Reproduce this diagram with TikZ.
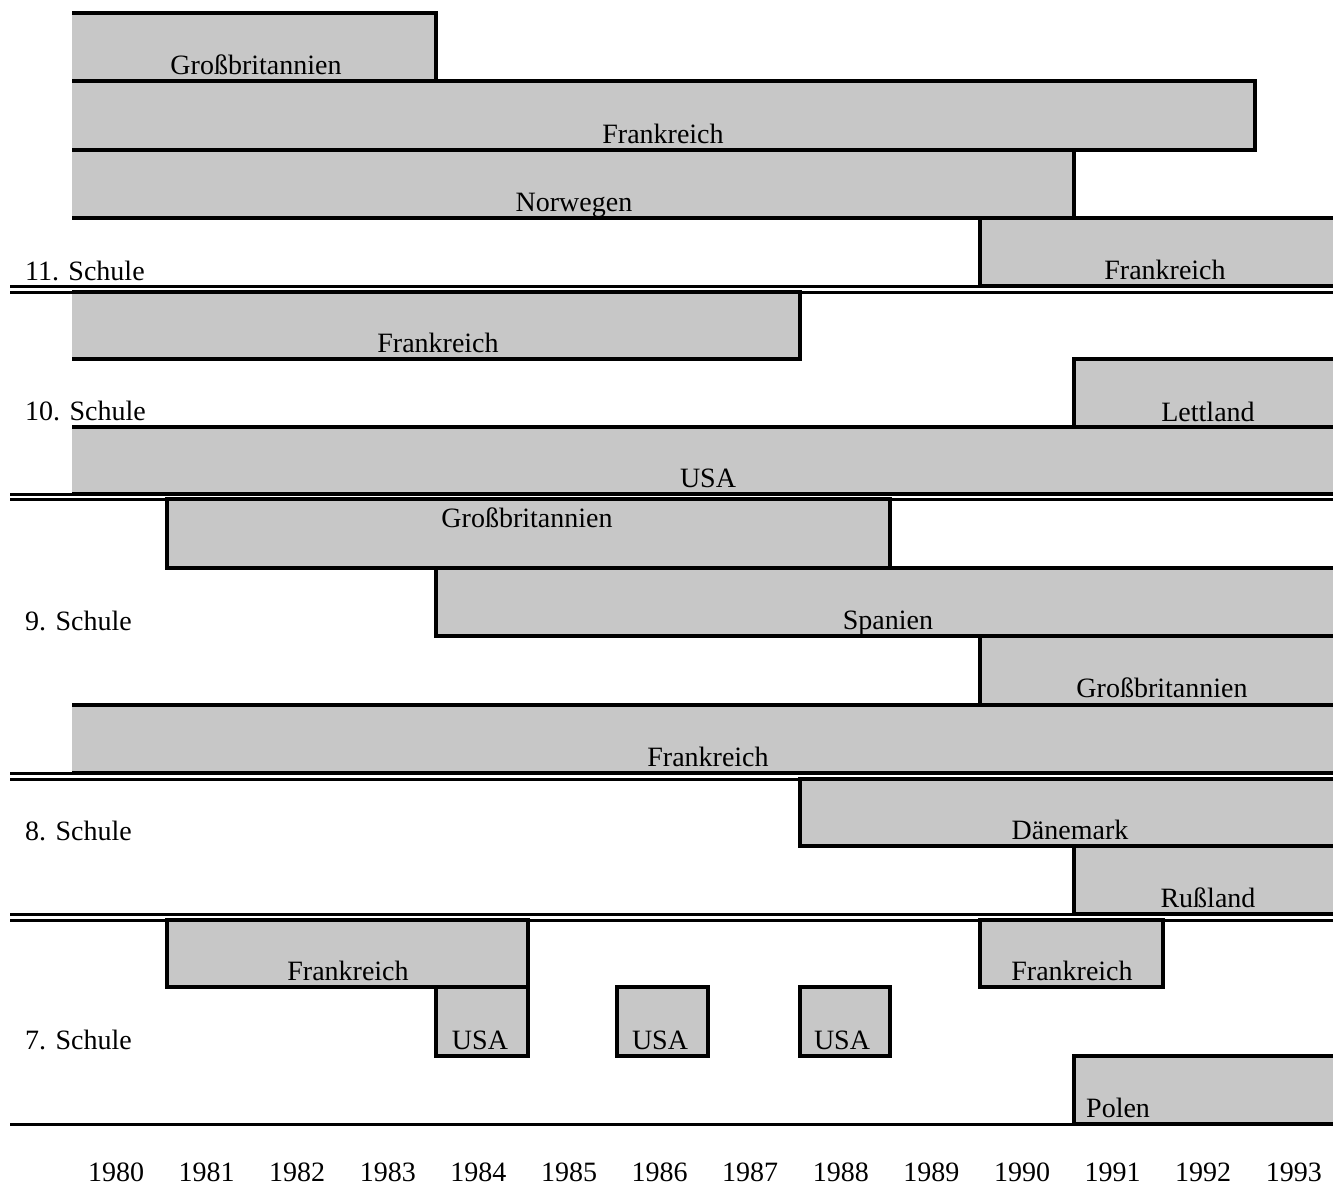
\documentclass[tikz,border=0pt]{standalone}
\usepackage{fontspec}
\setmainfont{Liberation Serif}
\pgfdeclarelayer{paper}
\pgfdeclarelayer{background}
\pgfsetlayers{paper,background,main}
\tikzset{
  barfill/.style={fill=black!22},
  edge/.style={line width=3.2pt, line join=miter},
  sepline/.style={line width=3pt},
  lbl/.style={anchor=base, inner sep=0pt, font=\fontsize{28}{32}\selectfont},
  schul/.style={lbl, anchor=base west},
}
% interior bar: L T R B
\newcommand\gbarI[4]{%
  \begin{pgfonlayer}{background}\fill[barfill] (#1,#2) rectangle (#3,#4);\end{pgfonlayer}
  \draw[edge] (#1,#2) rectangle (#3,#4);}
% bar cut at the left edge: T R B
\newcommand\gbarL[3]{%
  \begin{pgfonlayer}{background}\fill[barfill] (72,#1) rectangle (#2,#3);\end{pgfonlayer}
  \draw[edge] (72,#1) -| (#2,#3) -- (72,#3);}
% bar cut at the right edge: L T B
\newcommand\gbarR[3]{%
  \begin{pgfonlayer}{background}\fill[barfill] (#1,#2) rectangle (1334,#3);\end{pgfonlayer}
  \draw[edge] (1334,#2) -- (#1,#2) |- (1334,#3);}
% bar cut at both edges: T B
\newcommand\gbarB[2]{%
  \begin{pgfonlayer}{background}\fill[barfill] (72,#1) rectangle (1334,#2);\end{pgfonlayer}
  \draw[edge] (72,#1) -- (1334,#1) (72,#2) -- (1334,#2);}

\begin{document}
\begin{tikzpicture}[x=1pt,y=-1pt]
\useasboundingbox (0,0) rectangle (1333,1186);
\begin{pgfonlayer}{paper}\fill[white] (0,0) rectangle (1333,1186);\end{pgfonlayer}

% ---- 11. Schule
\gbarL{13}{436}{81}
\gbarL{81}{1255}{150}
\gbarL{150}{1074}{218}
\gbarR{980}{218}{286}
\node[lbl] (s11a) at (256,74) {Großbritannien};
\node[lbl] (s11b) at (663,143) {Frankreich};
\node[lbl] (s11c) at (574,211) {Norwegen};
\node[lbl] (s11d) at (1165,279) {Frankreich};
\node[schul] (sch11) at (25,280) {11. Schule};

% ---- 10. Schule
\gbarL{292}{800}{359}
\gbarR{1074}{359}{427}
\gbarB{427}{494}
\node[lbl] (s10a) at (438,352) {Frankreich};
\node[lbl] (s10b) at (1208,421) {Lettland};
\node[lbl] (s10c) at (708,487) {USA};
\node[schul] (sch10) at (25,420) {10. Schule};

% ---- 9. Schule
\gbarI{167}{499}{890}{568}
\gbarR{436}{568}{636}
\gbarR{980}{636}{705}
\gbarB{705}{773}
\node[lbl] (s9a) at (527,527) {Großbritannien};
\node[lbl] (s9b) at (888,629) {Spanien};
\node[lbl] (s9c) at (1162,697) {Großbritannien};
\node[lbl] (s9d) at (708,766) {Frankreich};
\node[schul] (sch9) at (25,630) {9. Schule};

% ---- 8. Schule
\gbarR{800}{779}{846}
\gbarR{1074}{846}{914}
\node[lbl] (s8a) at (1070,839) {Dänemark};
\node[lbl] (s8b) at (1208,907) {Rußland};
\node[schul] (sch8) at (25,840) {8. Schule};

% ---- 7. Schule
\gbarI{167}{920}{528}{987}
\gbarI{980}{920}{1163}{987}
\gbarI{436}{987}{528}{1056}
\gbarI{617}{987}{708}{1056}
\gbarI{800}{987}{890}{1056}
\gbarR{1074}{1056}{1124}
\node[lbl] (s7a) at (348,980) {Frankreich};
\node[lbl] (s7b) at (1072,980) {Frankreich};
\node[lbl] (s7c) at (480,1049) {USA};
\node[lbl] (s7d) at (660,1049) {USA};
\node[lbl] (s7e) at (842,1049) {USA};
\node[lbl, anchor=base west] (s7f) at (1086,1117) {Polen};
\node[schul] (sch7) at (25,1049) {7. Schule};

% ---- separators
\foreach \ya/\yb in {286/292, 494/499, 773/779, 914/920}{
  \draw[sepline] (10,\ya) -- (1334,\ya);
  \draw[sepline] (10,\yb) -- (1334,\yb);
}
\draw[sepline] (10,1124) -- (1334,1124);

% ---- years
\foreach \k in {0,...,13}{
  \pgfmathtruncatemacro{\yy}{1980+\k}
  \node[lbl] (y\yy) at ({116+90.6*\k},1181) {\yy};
}
\end{tikzpicture}
\end{document}
